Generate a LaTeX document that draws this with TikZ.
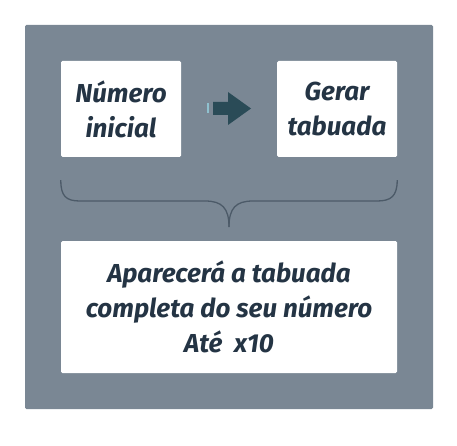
\documentclass[tikz,border=0pt]{standalone}
\usepackage{fontspec}
\setmainfont{Fira Sans}
\definecolor{panel}{HTML}{7A8794}
\definecolor{ink}{HTML}{243444}
\definecolor{arrowcol}{HTML}{2A4B57}
\definecolor{barcol}{HTML}{8FC1CF}
\definecolor{bracecol}{HTML}{4C5A68}
\tikzset{
  card/.style={fill=white, rounded corners=1.5pt, inner sep=0pt, align=center,
    text=ink, font=\fontsize{26}{35}\selectfont\bfseries\itshape}
}
\begin{document}
\begin{tikzpicture}[x=1pt, y=-1pt]
    \useasboundingbox (0,0) rectangle (457,446);

    % Draw the panel
    \fill[panel, rounded corners=1.5pt] (25,25) rectangle (433,409);

    % The two top cards and the bottom card
    \node[card, minimum width=120, minimum height=96] (num) at (121,109) {Número\\inicial};
    \node[card, minimum width=120, minimum height=96] (gerar) at (337,109) {Gerar\\tabuada};
    \node[card, minimum width=336, minimum height=132] (result) at (229,307) {Aparecerá a tabuada\\completa do seu número\\Até\ \ x10};

    % Arrow between the cards
    \fill[barcol] (207,103) rectangle (209,113);
    \fill[arrowcol] (213,102) -- (228,102) -- (228,92) -- (251,108.5) -- (228,125) -- (228,115) -- (213,115) -- cycle;

    % Brace under the cards
    \draw[bracecol, line width=1.3pt]
      (num.south west) ++(0,23) .. controls +(0,16) and (66,201) .. (80,201) -- (205,201)
      .. controls (222,201) and (229,208) .. (229,227);
    \draw[bracecol, line width=1.3pt]
      (gerar.south east) ++(0,23) .. controls +(0,16) and (391,201) .. (377,201) -- (253,201)
      .. controls (236,201) and (229,208) .. (229,227);
\end{tikzpicture}
\end{document}
